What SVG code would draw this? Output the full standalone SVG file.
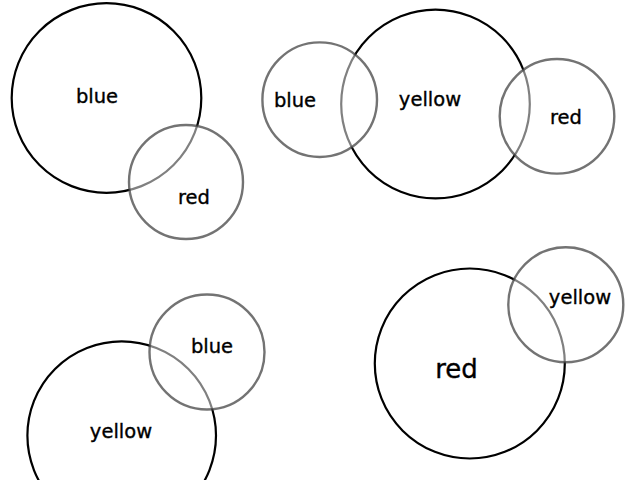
<svg xmlns="http://www.w3.org/2000/svg" width="640" height="480" viewBox="0 0 640 480">
<style>
.big{fill:none;stroke:#000;stroke-width:2.2}
.small{fill:#fff;fill-opacity:0.5;stroke:#444;stroke-opacity:0.75;stroke-width:2.4}
text{font-family:"DejaVu Sans",sans-serif;font-size:19.5px;fill:#000;stroke:#000;stroke-width:0.35;text-anchor:middle}
</style>
<rect width="640" height="480" fill="#fff"/>
<g id="set1">
<g id="s1-blue"><circle class="big" cx="106.5" cy="98" r="94.8"/><text x="97" y="102.5">blue</text></g>
<g id="s1-red"><circle class="small" cx="186" cy="182" r="57"/><text x="194" y="203.5">red</text></g>
</g>
<g id="set2">
<g id="s2-yellow"><circle class="big" cx="435.5" cy="104" r="94.3"/><text x="430" y="105.5">yellow</text></g>
<g id="s2-blue"><circle class="small" cx="319.7" cy="99.7" r="57.3"/><text x="295" y="106.5">blue</text></g>
<g id="s2-red"><circle class="small" cx="557" cy="116.3" r="57.3"/><text x="566" y="123.5">red</text></g>
</g>
<g id="set3">
<g id="s3-yellow"><circle class="big" cx="121.7" cy="435.6" r="94.3"/><text x="121" y="437.5">yellow</text></g>
<g id="s3-blue"><circle class="small" cx="207" cy="352" r="57.5"/><text x="212" y="352.5">blue</text></g>
</g>
<g id="set4">
<g id="s4-red"><circle class="big" cx="469.8" cy="363.5" r="95"/><text x="456.5" y="378" style="font-size:26px">red</text></g>
<g id="s4-yellow"><circle class="small" cx="565.8" cy="304.8" r="57.5"/><text x="580" y="303.5">yellow</text></g>
</g>
<g id="connectors"></g>
</svg>
